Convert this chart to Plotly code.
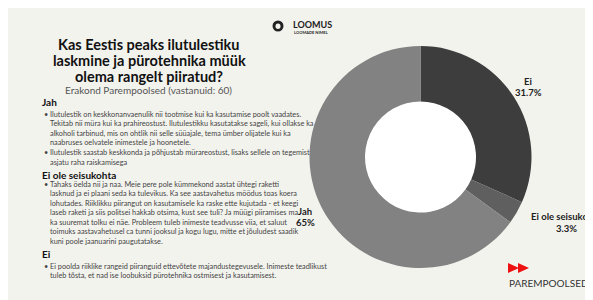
import plotly.graph_objects as go

# ---- data ----
categories = ["Ei", "Ei ole seisukohta", "Jah"]
counts = [19, 2, 39]
slice_colors = ["#3d3d3d", "#5f5f5f", "#828282"]

title_lines = ["Kas Eestis peaks ilutulestiku", "laskmine ja pürotehnika müük", "olema rangelt piiratud?"]
subtitle = "Erakond Parempoolsed (vastanuid: 60)"

jah_bullets = [
    ["Ilutulestik on keskkonanvaenulik nii tootmise kui ka kasutamise poolt vaadates.",
     "Tekitab nii müra kui ka prahireostust. Ilutulestikku kasutatakse sageli, kui ollakse ka",
     "alkoholi tarbinud, mis on ohtlik nii selle süüajale, tema ümber olijatele kui ka",
     "naabruses oelvatele inimestele ja hoonetele."],
    ["Ilutulestik saastab keskkonda ja põhjustab mürareostust, lisaks sellele on tegemist",
     "asjatu raha raiskamisega"],
]
eos_bullets = [
    ["Tahaks öelda nii ja naa. Meie pere pole kümmekond aastat ühtegi raketti",
     "lasknud ja ei plaani seda ka tulevikus. Ka see aastavahetus möödus toas koera",
     "lohutades. Riiklikku piirangut on kasutamisele ka raske ette kujutada - et keegi",
     "laseb raketi ja siis politsei hakkab otsima, kust see tuli? Ja müügi piiramises ma",
     "ka suuremat tolku ei näe. Probleem tuleb inimeste teadvusse viia, et saluut",
     "toimuks aastavahetusel ca tunni jooksul ja kogu lugu, mitte et jõuludest saadik",
     "kuni poole jaanuarini paugutatakse."],
]
ei_bullets = [
    ["Ei poolda riiklike rangeid piiranguid ettevõtete majandustegevusele. Inimeste teadlikust",
     "tuleb tõsta, et nad ise loobuksid pürotehnika ostmisest ja kasutamisest."],
]

# page offset (browser body margin) and figure size
OFF = 8
W, H = 585, 292
BG = "#f3f3ee"


def X(px):
    return (px - OFF) / W


def Y(py):
    return 1 - (py - OFF) / H


total = sum(counts)


def pct(v):
    p = round(v / total * 100, 1)
    s = f"{p:.1f}"
    if s.endswith(".0"):
        s = s[:-2]
    return s + "%"


fig = go.Figure()

cx, cy, R = 420.5, 157, 111
fig.add_trace(go.Pie(
    labels=categories, values=counts, sort=False, direction="clockwise", rotation=0,
    hole=0.5, textinfo="none", hoverinfo="label+percent",
    marker=dict(colors=slice_colors, line=dict(width=0)),
    domain=dict(x=[X(cx - R), X(cx + R)], y=[Y(cy + R), Y(cy - R)]),
))

shapes = []
# white hole
hr = 56
shapes.append(dict(type="circle", xref="paper", yref="paper",
                   x0=X(cx - hr), x1=X(cx + hr), y0=Y(cy + hr), y1=Y(cy - hr),
                   fillcolor="white", line=dict(width=0), layer="below"))
# LOOMUS icon
shapes.append(dict(type="circle", xref="paper", yref="paper",
                   x0=X(272.5), x1=X(283.5), y0=Y(31.5), y1=Y(20.5),
                   fillcolor="#222222", line=dict(width=0)))
shapes.append(dict(type="circle", xref="paper", yref="paper",
                   x0=X(275.5), x1=X(280.5), y0=Y(29), y1=Y(23.5),
                   fillcolor=BG, line=dict(width=0)))
# PAREMPOOLSED red arrows
for x0 in (508, 518):
    path = f"M {X(x0)} {Y(263)} L {X(x0 + 11)} {Y(268)} L {X(x0)} {Y(273)} Z"
    shapes.append(dict(type="path", xref="paper", yref="paper", path=path,
                       fillcolor="#ee1111", line=dict(width=0)))

ann = []


def text(x, y, t, size, color="#222", bold=False, xanchor="left", yanchor="middle",
         align="left", family="Lato"):
    if bold:
        t = "<b>" + t + "</b>"
    ann.append(dict(x=X(x), y=Y(y), xref="paper", yref="paper", text=t, showarrow=False,
                    xanchor=xanchor, yanchor=yanchor, align=align,
                    font=dict(size=size, color=color, family=family)))


# title (one annotation per line for tight leading)
for i, line in enumerate(title_lines):
    text(149, 44 + i * 16, line, 14.5, color="#111", bold=True, xanchor="center",
         align="center")
text(148, 90, subtitle, 10, color="#555", xanchor="center")

BODY = 7.3
LH = 9.5


def section(heading, y_head, bullets, y_first):
    text(40, y_head, heading, 10, color="#111", bold=True)
    y = y_first
    for b in bullets:
        text(41.5, y, "•", BODY, color="#444")
        for j, line in enumerate(b):
            text(47.5, y + j * LH, line, BODY, color="#444")
        y += len(b) * LH + 0.8


section("Jah", 102, jah_bullets, 114)
section("Ei ole seisukohta", 175, eos_bullets, 184)
section("Ei", 254, ei_bullets, 266)

# slice labels
label_pos = {"Ei": (528, 87), "Ei ole seisukohta": (566, 222), "Jah": (305, 217)}
for c, v in zip(categories, counts):
    lx, ly = label_pos[c]
    text(lx, ly - 6, c, 9.5, color="#222", bold=True, xanchor="center", align="center")
    text(lx, ly + 6, pct(v), 9.5, color="#222", bold=True, xanchor="center", align="center")

# logos text
text(291, 24, "LOOMUS", 9, color="#222", bold=True)
text(291.5, 32.5, "LOOMADE NIMEL", 4, color="#222", bold=True)
text(507, 283, "PAREMPOOLSED", 10, color="#333")

fig.update_layout(width=W, height=H, margin=dict(l=0, r=0, t=0, b=0),
                  paper_bgcolor=BG, plot_bgcolor=BG, showlegend=False,
                  shapes=shapes, annotations=ann)

fig.write_html("out.html")
